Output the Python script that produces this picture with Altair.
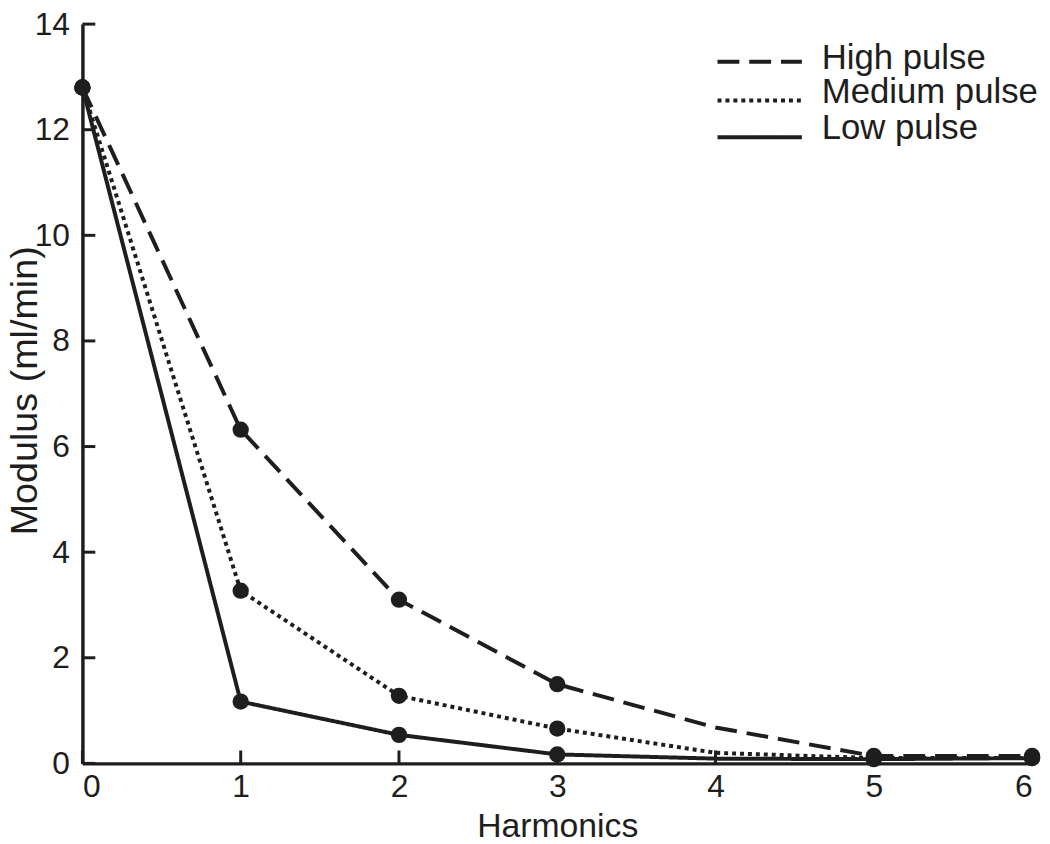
import altair as alt
import pandas as pd

harmonics = [0, 1, 2, 3, 4, 5, 6]
series_names = ["High pulse", "Medium pulse", "Low pulse"]
high_pulse = [12.8, 6.32, 3.1, 1.5, 0.68, 0.14, 0.14]
medium_pulse = [12.8, 3.27, 1.28, 0.66, 0.2, 0.1, 0.1]
low_pulse = [12.8, 1.17, 0.54, 0.17, 0.09, 0.08, 0.1]
marker_harmonics = [0, 1, 2, 3, 5, 6]
y_ticks = [0, 2, 4, 6, 8, 10, 12, 14]
x_ticks = [0, 1, 2, 3, 4, 5, 6]
dashes = [[22, 10], [4, 4], [1, 0]]

rows = []
for name, vals in zip(series_names, [high_pulse, medium_pulse, low_pulse]):
    for h, v in zip(harmonics, vals):
        rows.append({"Harmonics": h, "Modulus": v, "Series": name})
df = pd.DataFrame(rows)
pts = df[df["Harmonics"].isin(marker_harmonics)]

FONT = "Liberation Sans"
INK = "#1e1e1e"
W, H = 957, 745

xs = alt.Scale(domain=[0, 6], nice=False, zero=False)
ys = alt.Scale(domain=[0, 14], nice=False)

lines = alt.Chart(df).mark_line(color=INK, strokeWidth=4).encode(
    x=alt.X("Harmonics:Q", scale=xs,
            axis=alt.Axis(title="Harmonics", values=x_ticks, ticks=False, labelPadding=8,
                          titleFontSize=34, titleBaseline="alphabetic", titleY=74, format="d")),
    y=alt.Y("Modulus:Q", scale=ys,
            axis=alt.Axis(title="Modulus (ml/min)", values=y_ticks, ticks=False, labelPadding=13,
                          titleFontSize=38, titleBaseline="alphabetic", titleX=-46, titleY=369,
                          format="d")),
    strokeDash=alt.StrokeDash("Series:N",
                              scale=alt.Scale(domain=series_names, range=dashes),
                              legend=None),
    detail="Series:N",
)

points = alt.Chart(pts).mark_circle(color=INK, size=270, opacity=1).encode(
    x=alt.X("Harmonics:Q", scale=xs),
    y=alt.Y("Modulus:Q", scale=ys),
)

ytick_df = pd.DataFrame({"v": y_ticks})
xtick_df = pd.DataFrame({"v": x_ticks})
yticks = alt.Chart(ytick_df).mark_rule(color=INK, strokeWidth=3).encode(
    y=alt.Y("v:Q", scale=ys), x=alt.value(0), x2=alt.value(13))
xticks = alt.Chart(xtick_df).mark_rule(color=INK, strokeWidth=3).encode(
    x=alt.X("v:Q", scale=xs), y=alt.value(H), y2=alt.value(H - 13))

# manual legend (top right, no frame)
legend_layers = []
line_y = [38, 77, 114]
text_y = [45, 80, 116]
for name, dash, ly, ty in zip(series_names, dashes, line_y, text_y):
    d = pd.DataFrame({"Series": [name]})
    legend_layers.append(
        alt.Chart(d).mark_rule(color=INK, strokeWidth=4, strokeDash=dash).encode(
            x=alt.value(640), x2=alt.value(725), y=alt.value(ly)))
    legend_layers.append(
        alt.Chart(d).mark_text(font=FONT, fontSize=35, color=INK, align="left",
                               baseline="alphabetic").encode(
            x=alt.value(745), y=alt.value(ty), text="Series:N"))

chart = alt.layer(lines, points, yticks, xticks, *legend_layers).properties(
    width=W, height=H,
    autosize=alt.AutoSizeParams(type="none"),
    padding={"left": 75, "top": 13, "right": 10, "bottom": 78},
).configure_view(stroke=None).configure_axis(
    domainColor=INK, domainWidth=3.5, labelFont=FONT, labelFontSize=32,
    labelColor=INK, titleFont=FONT, titleFontWeight="normal",
    titleColor=INK, grid=False,
)

chart.save("out.html", embed_options={"renderer": "svg", "actions": False})
